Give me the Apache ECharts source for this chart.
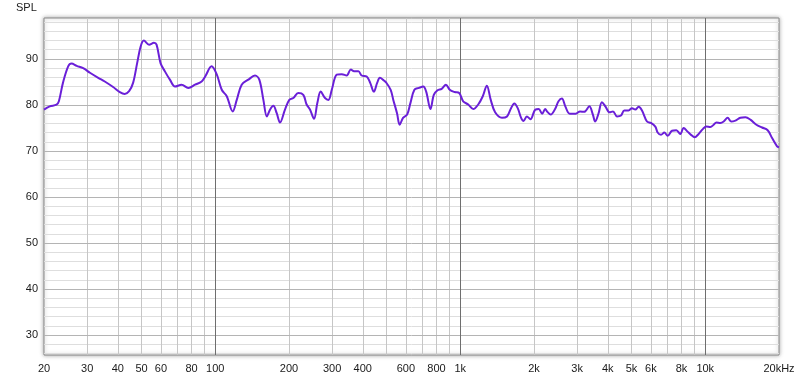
<!DOCTYPE html>
<html>
<head>
<meta charset="utf-8">
<script src="https://cdn.jsdelivr.net/npm/echarts@6/dist/echarts.min.js"></script>
<style>html,body{margin:0;padding:0;background:#fff}#c{width:800px;height:380px}</style>
</head>
<body>
<div id="c"></div>
<script>
// Frequency (Hz) and SPL (dB)
var freqs = [20,21.1,22.5,23.0,23.9,25.1,25.9,27.2,28.9,30.8,33.3,35.4,38.3,40.8,42.7,44.5,46.2,48.0,49.6,51.1,53.7,56.2,57.6,59.8,62.3,65.3,68.5,72.9,77.6,82.7,88.0,91,96.6,101.5,106.3,111.4,117.8,122.4,128.2,136.5,145.3,151.3,157.2,162.4,167.5,172.6,178.2,183.8,192.6,200.6,208.2,218.2,228.8,236,243.6,253,261,269.4,280.6,289.6,299,313.4,328.4,344,357.4,368.6,384,396,415,429,444,458,470,488,498,520,533,552,566,584,607,626,650,678,706,726,756,780,808,840,874,906,950,990,1028,1078,1130,1184,1236,1284,1332,1388,1480,1552,1612,1662,1716,1772,1812,1870,1934,2026,2090,2160,2222,2268,2340,2438,2518,2600,2684,2798,2960,3082,3206,3364,3478,3554,3670,3786,3910,4072,4202,4364,4530,4672,4864,5024,5182,5346,5518,5784,6000,6254,6392,6598,6808,7024,7318,7620,7912,8160,8472,8750,9052,9398,9796,10104,10492,10824,11102,11528,11892,12346,12748,13274,13912,14582,15282,16172,17062,17980,18744,19644,20000];
var spl = [79.0,79.7,80.05,80.8,84.8,88.4,89.0,88.5,88.0,87.0,85.9,85.1,83.9,82.8,82.4,83.0,84.8,89.1,92.7,94.0,93.1,93.5,93.1,89.1,87.3,85.5,84.0,84.4,83.7,84.4,85.1,86.2,88.4,86.6,83.3,81.9,78.6,81.1,84.4,85.5,86.4,85.5,81.1,77.5,79.0,79.8,78.2,76.2,79.0,81.1,81.5,82.6,82.2,80.1,79.0,77.0,80.4,82.9,81.5,81.1,83.3,86.6,86.7,86.4,87.7,87.3,87.3,86.4,86.2,84.8,82.9,84.8,85.9,85.3,84.9,83.3,81.1,78.2,75.7,77.2,77.9,80.4,83.3,83.7,84.0,82.9,79.1,82.2,83.2,83.5,84.4,83.3,82.8,82.6,80.8,80.1,79.1,80.1,81.9,84.2,81.1,78.4,77.2,77.5,79.3,80.3,79.3,77.2,76.5,77.5,76.9,79.0,79.1,78.1,79.1,78.5,77.9,79.1,80.8,81.4,79.7,78.1,78.1,78.6,78.5,79.7,77.9,76.4,78.2,80.6,79.7,78.4,78.6,77.5,77.7,78.8,78.8,79.3,79.0,79.6,78.8,76.4,76.1,75.3,74.0,73.5,74.0,73.3,74.4,74.5,73.7,75.0,74.2,73.5,73.0,73.7,74.8,75.3,75.2,75.7,76.2,76.1,76.4,77.2,76.4,76.6,77.2,77.3,76.8,75.7,75.1,74.5,72.8,71.0,70.8];

var xLabelTicks = [20,30,40,50,60,80,100,200,300,400,600,800,1000,2000,3000,4000,5000,6000,8000,10000,20000];
var xMinorLines = [30,40,50,60,70,80,90,200,300,400,500,600,700,800,900,2000,3000,4000,5000,6000,7000,8000,9000];
var xDecadeLines = [100,1000,10000];
var yLabelTicks = [30,40,50,60,70,80,90];
var yMinorLines = [26,28,32,34,36,38,42,44,46,48,52,54,56,58,62,64,66,68,72,74,76,78,82,84,86,88,92,94,96,98];

var X_MIN = 20, X_MAX = 20000, Y_MIN = 25.65, Y_MAX = 98.9;

var font = {fontFamily:'Liberation Sans', fontSize:11, color:'#1a1a1a'};

function fmtX(v){
  v = Math.round(v);
  if (v === 20000) return '20kHz';
  if (v >= 1000) return (v/1000) + 'k';
  return String(v);
}

var chart = echarts.init(document.getElementById('c'), null, {renderer:'canvas'});
chart.setOption({
  animation:false,
  backgroundColor:'#fff',
  graphic:[{type:'text', left:16, top:2, style:{text:'SPL', font:'11px "Liberation Sans"', fill:'#1a1a1a'}}],
  grid:{left:44, right:21, top:18, bottom:25, show:true, backgroundColor:'#fff', borderColor:'#8a8a8a', borderWidth:1,
        shadowColor:'rgba(0,0,0,0.35)', shadowBlur:4, shadowOffsetX:0, shadowOffsetY:0},
  xAxis:[
    {type:'log', logBase:10, min:X_MIN, max:X_MAX, z:3,
     axisLine:{show:false},
     axisTick:{show:false, customValues:xDecadeLines},
     axisLabel:Object.assign({customValues:xLabelTicks, formatter:fmtX, margin:8, showMinLabel:true, showMaxLabel:true}, font),
     splitLine:{show:true, lineStyle:{color:'#6e6e6e', width:1}}},
    {type:'log', logBase:10, min:X_MIN, max:X_MAX, z:1, position:'bottom',
     axisLine:{show:false},
     axisTick:{show:false, customValues:xMinorLines},
     axisLabel:{show:false},
     splitLine:{show:true, lineStyle:{color:'#c6c6c6', width:1}}}
  ],
  yAxis:[
    {type:'value', min:Y_MIN, max:Y_MAX, z:2,
     axisLine:{show:false},
     axisTick:{show:false, customValues:yLabelTicks},
     axisLabel:Object.assign({customValues:yLabelTicks, margin:6}, font),
     splitLine:{show:true, lineStyle:{color:'#b4b4b4', width:1}}},
    {type:'value', min:Y_MIN, max:Y_MAX, z:0, position:'left',
     axisLine:{show:false},
     axisTick:{show:false, customValues:yMinorLines},
     axisLabel:{show:false},
     splitLine:{show:true, lineStyle:{color:'#dedede', width:1}}}
  ],
  series:[{
    type:'line', xAxisIndex:0, yAxisIndex:0, z:5,
    data: freqs.map(function(f,i){return [f, spl[i]];}),
    showSymbol:false, smooth:0.35,
    lineStyle:{color:'#6a1fd8', width:2},
    itemStyle:{color:'#6a1fd8'}
  }]
});
</script>
</body>
</html>
